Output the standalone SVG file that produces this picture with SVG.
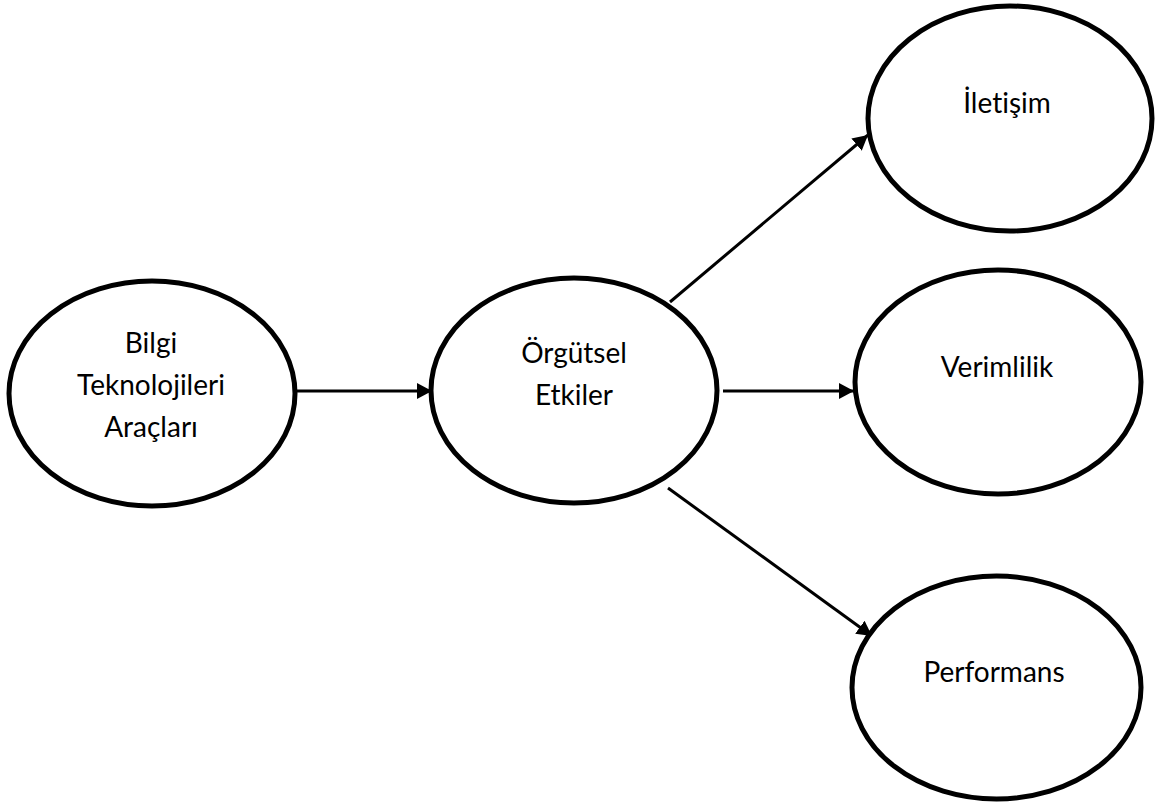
<svg xmlns="http://www.w3.org/2000/svg" width="1172" height="805" viewBox="0 0 1172 805">
<style>
.node ellipse{fill:#fff;stroke:#000;stroke-width:5}
.node text{font-family:Lato,"Open Sans",sans-serif;font-size:28px;fill:#000;text-anchor:middle;font-variant-ligatures:none;font-feature-settings:"liga" 0,"dlig" 0}
.edge{stroke:#000;stroke-width:3;fill:none;marker-end:url(#ah)}
</style>
<defs>
<marker id="ah" markerUnits="userSpaceOnUse" markerWidth="16" markerHeight="16" refX="15" refY="8" orient="auto" viewBox="0 0 16 16">
<path d="M0,0 L15,8 L0,16 z" fill="#000"/>
</marker>
</defs>
<g id="connectors">
<line class="edge" x1="297" y1="391" x2="432" y2="391"/>
<line class="edge" x1="670" y1="302" x2="868" y2="135"/>
<line class="edge" x1="723" y1="391" x2="854" y2="391"/>
<line class="edge" x1="668" y1="488" x2="872" y2="636"/>
</g>
<g id="node-bilgi" class="node">
<ellipse cx="152" cy="393.5" rx="143" ry="112.5"/>
<text x="151" y="353">Bilgi</text>
<text x="151" y="395">Teknolojileri</text>
<text x="151" y="437">Araçları</text>
</g>
<g id="node-orgutsel" class="node">
<ellipse cx="574" cy="390.5" rx="143" ry="112.5"/>
<text x="574" y="363">Örgütsel</text>
<text x="574" y="405">Etkiler</text>
</g>
<g id="node-iletisim" class="node">
<ellipse cx="1010" cy="118.5" rx="142" ry="112.5"/>
<text x="1007" y="113">İletişim</text>
</g>
<g id="node-verimlilik" class="node">
<ellipse cx="998" cy="382" rx="143" ry="112"/>
<text x="997" y="377">Verimlilik</text>
</g>
<g id="node-performans" class="node">
<ellipse cx="996.5" cy="687.5" rx="144.5" ry="111.5"/>
<text x="994" y="682">Performans</text>
</g>
</svg>
